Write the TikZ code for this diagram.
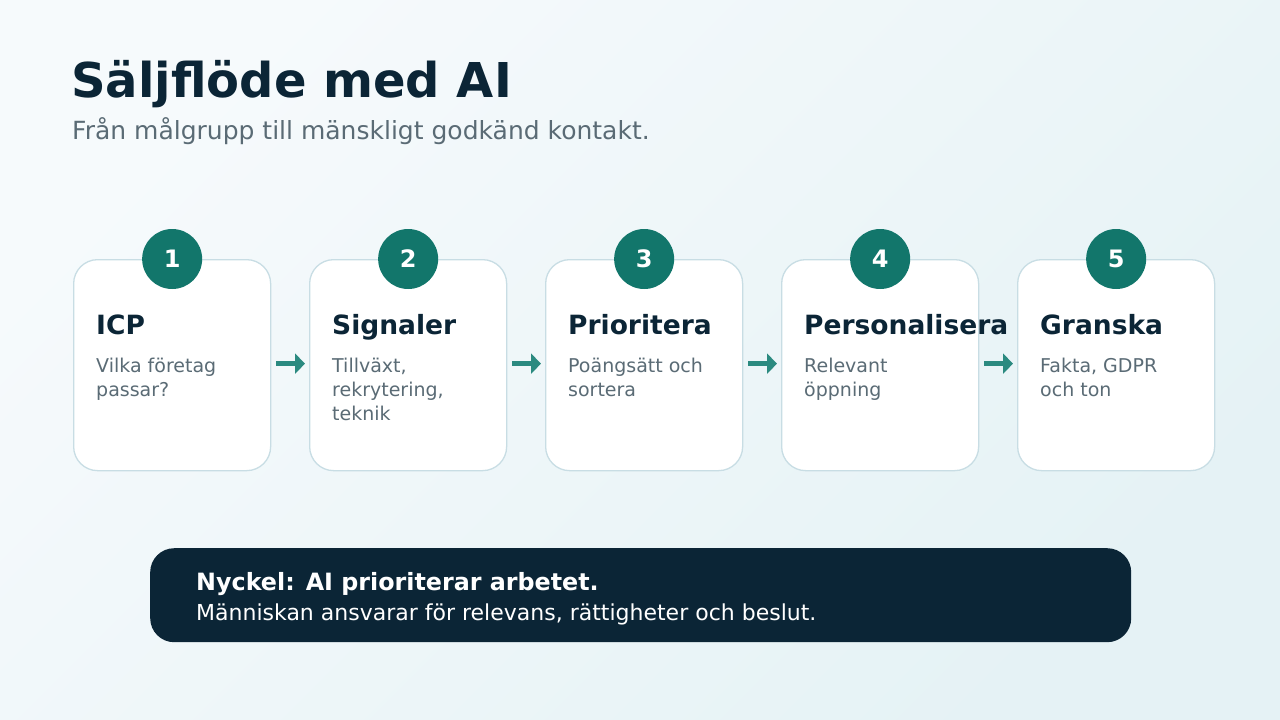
\documentclass[tikz,border=0pt]{standalone}
\usepackage{fontspec}
\setmainfont{DejaVu Sans}
\usetikzlibrary{arrows.meta}
\definecolor{navy}{HTML}{0B2536}
\definecolor{greytxt}{HTML}{5A6B75}
\definecolor{teal1}{HTML}{12766B}
\definecolor{teal2}{HTML}{2B8A80}
\definecolor{cardline}{HTML}{C8DDE4}
\definecolor{bgA}{HTML}{F6FAFC}
\definecolor{bgB}{HTML}{E5F2F5}
\tikzset{
  card/.style={draw=cardline, line width=1.3pt, fill=white, rounded corners=24pt,
    minimum width=197pt, minimum height=211pt, inner sep=0pt, anchor=north west},
  badge/.style={circle, fill=teal1, minimum size=60pt, inner sep=0pt, text=white,
    font=\bfseries\fontsize{24}{24}\selectfont},
  ctitle/.style={anchor=base west, inner sep=0pt, text=navy, font=\bfseries\fontsize{26.5}{26.5}\selectfont},
  cline/.style={anchor=base west, inner sep=0pt, text=greytxt, font=\fontsize{19}{24}\selectfont},
  flow/.style={draw=teal2, line width=5pt, -{Triangle[length=10pt,width=20pt]},
    shorten <=5pt, shorten >=4pt}
}
\begin{document}
\begin{tikzpicture}[x=1pt,y=-1pt]
\useasboundingbox (0,0) rectangle (1280,720);
\shade[shading=axis, left color=bgA, right color=bgB, shading angle=45] (0,0) rectangle (1280,720);
\node[anchor=base west, inner sep=0pt, text=navy, font=\bfseries\fontsize{48}{48}\selectfont] (title) at (71,97) {Säljflöde med AI};
\node[anchor=base west, inner sep=0pt, text=greytxt, font=\fontsize{25}{25}\selectfont] (sub) at (72,139) {Från målgrupp till mänskligt godkänd kontakt.};
% cards
\foreach \i/\t/\da/\db/\dc in {
  1/{ICP}/{Vilka företag}/{passar?}/{},
  2/{Signaler}/{Tillväxt,}/{rekrytering,}/{teknik},
  3/{Prioritera}/{Poängsätt och}/{sortera}/{},
  4/{Personalisera}/{Relevant}/{öppning}/{},
  5/{Granska}/{Fakta, GDPR}/{och ton}/{}}{
  \pgfmathsetmacro{\xx}{73+236*(\i-1)}
  \node[card] (c\i) at (\xx,259) {};
  \node[badge] (b\i) at (c\i.north) {\i};
  \node[ctitle] (t\i) at (\xx+23,334) {\t};
  \node[cline] (da\i) at (\xx+23,372) {\da};
  \node[cline] (db\i) at (\xx+23,396) {\db};
  \node[cline] (dc\i) at (\xx+23,420) {\dc};
}
\foreach \i/\j in {1/2,2/3,3/4,4/5}{
  \draw[flow] ([yshift=1.5pt]c\i.east) -- ([yshift=1.5pt]c\j.west);
}
% key box
\node[fill=navy, rounded corners=24pt, minimum width=981pt, minimum height=94pt, anchor=north west, inner sep=0pt] (key) at (150,548) {};
\node[anchor=base west, inner sep=0pt, text=white, font=\bfseries\fontsize{23.8}{24}\selectfont] (k1) at (196,590) {Nyckel: AI prioriterar arbetet.};
\node[anchor=base west, inner sep=0pt, text=white, font=\fontsize{22}{22}\selectfont] (k2) at (196,620) {Människan ansvarar för relevans, rättigheter och beslut.};
\end{tikzpicture}
\end{document}
